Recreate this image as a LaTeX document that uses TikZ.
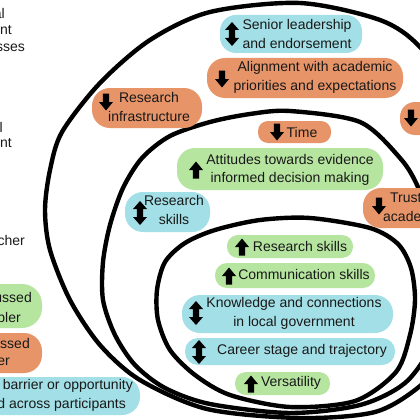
\documentclass[tikz,border=0pt]{standalone}
\usepackage{fontspec}
\setmainfont{Liberation Sans}
\definecolor{cbox}{RGB}{162,223,230}
\definecolor{gbox}{RGB}{182,229,160}
\definecolor{obox}{RGB}{230,148,104}
\definecolor{txt}{RGB}{25,25,25}
\begin{document}
\begin{tikzpicture}[x=1pt,y=-1pt,
  ring/.style={line width=4.4pt,black,line join=round},
  pillc/.style={fill=cbox,draw=none,inner sep=0pt,rounded corners=#1},
  pillg/.style={fill=gbox,draw=none,inner sep=0pt,rounded corners=#1},
  pillo/.style={fill=obox,draw=none,inner sep=0pt,rounded corners=#1},
  lbl/.style={font=\fontsize{14}{18.5}\selectfont,text=txt,align=center,inner sep=0pt},
  frag/.style={lbl,anchor=east},
  downarr/.pic={\fill[black] (-3.2,-8.5) -- (3.2,-8.5) -- (3.2,0) -- (7,0) -- (0,8.5) -- (-7,0) -- (-3.2,0) -- cycle;},
  uparr/.pic={\fill[black] (-3.2,8.5) -- (3.2,8.5) -- (3.2,0) -- (7,0) -- (0,-8.5) -- (-7,0) -- (-3.2,0) -- cycle;},
  udarr/.pic={\fill[black] (0,-12) -- (7,-4) -- (3.2,-4) -- (3.2,4) -- (7,4) -- (0,12) -- (-7,4) -- (-3.2,4) -- (-3.2,-4) -- (-7,-4) -- cycle;}
]
\useasboundingbox (0,0) rectangle (420,420);
\fill[white] (0,0) rectangle (420,420);
\clip (0,0) rectangle (420,420);

% rings
\draw[ring] plot[smooth cycle] coordinates {(300,3) (380,20) (420,47) (455,100) (475,190) (472,290) (448,352) (420,386) (375,412) (300,418) (207,409) (140,380) (100,345) (70,300) (50,250) (45,210) (50,170) (62,132) (100,83) (150,40) (210,12)};
\draw[ring] plot[smooth cycle] coordinates {(290,111) (360,122) (400,158) (418,187) (438,240) (444,300) (432,345) (405,383) (360,405) (290,413) (210,404) (165,388) (135,365) (115,335) (103,300) (103,262) (110,225) (123,188) (142,158) (170,136) (210,122) (250,114)};
\draw[ring] plot[smooth cycle] coordinates {(310,218) (370,228) (398,244) (411,268) (415,300) (410,335) (396,372) (355,401) (290,407) (230,395) (195,375) (170,350) (158,320) (157,290) (165,262) (185,243) (215,230) (260,220)};

% outer ring boxes
\node[pillc=16pt,minimum width=142pt,minimum height=38pt] (b1) at (291,34) {};
\node[lbl] (t1) at (297,34) {Senior leadership\\and endorsement};
\pic at (232,34) {udarr};
\node[pillo=18pt,minimum width=196pt,minimum height=40pt] (b2) at (305,78) {};
\node[lbl] (t2) at (315,77.5) {Alignment with academic\\priorities and expectations};
\pic at (222,79) {downarr};
\node[pillo=18pt,minimum width=110pt,minimum height=40pt] (b3) at (147,108) {};
\node[lbl] (t3) at (149,107) {Research\\infrastructure};
\pic at (106,102) {downarr};
\node[pillo=15pt,minimum width=50pt,minimum height=33pt] (b4) at (425,118.5) {};
\pic at (411,118) {downarr};

% middle ring boxes
\node[pillo=10pt,minimum width=73pt,minimum height=22pt] (b5) at (294.5,132) {};
\node[lbl] (t5) at (302,132) {Time};
\pic at (277,132) {downarr};
\node[pillg=18pt,minimum width=206pt,minimum height=42pt] (b6) at (280,169) {};
\node[lbl] (t6) at (290,170) {Attitudes towards evidence\\informed decision making};
\pic at (196,170) {uparr};
\node[pillc=18pt,minimum width=85pt,minimum height=40pt] (b7) at (167.5,212) {};
\node[lbl] (t7) at (174,210) {Research\\skills};
\pic at (140,213) {udarr};
\node[pillo=18pt,minimum width=87pt,minimum height=40pt] (b8) at (406.5,208) {};
\node[lbl,anchor=west] (t8a) at (390,197.5) {Trust};
\node[lbl,anchor=west] (t8b) at (383,216.5) {acade};
\pic at (379,206) {downarr};

% inner ring boxes
\node[pillg=11pt,minimum width=126pt,minimum height=23pt] (b9) at (290,246.5) {};
\node[lbl] (t9) at (300,246) {Research skills};
\pic at (242,247) {uparr};
\node[pillg=12pt,minimum width=160pt,minimum height=25pt] (b10) at (295,275.5) {};
\node[lbl] (t10) at (304,274.5) {Communication skills};
\pic at (229,276) {uparr};
\node[pillc=18pt,minimum width=211pt,minimum height=38pt] (b11) at (287.5,314) {};
\node[lbl] (t11) at (294,313.5) {Knowledge and connections\\in local government};
\pic at (196,313) {udarr};
\node[pillc=13pt,minimum width=210pt,minimum height=27pt] (b12) at (290,351.5) {};
\node[lbl] (t12) at (302,351) {Career stage and trajectory};
\pic at (199,352) {udarr};
\node[pillg=11pt,minimum width=95pt,minimum height=23pt] (b13) at (282.5,383.5) {};
\node[lbl] (t13) at (291,383) {Versatility};
\pic at (251,384) {uparr};

% left fragments
\node[frag] (f1) at (5,13) {al};
\node[frag] (f2) at (12,30) {nt};
\node[frag] (f3) at (25,48) {sses};
\node[frag] (f4) at (3,127) {l};
\node[frag] (f5) at (12,143) {nt};
\node[frag] (f6) at (25,240) {cher};

% legend
\node[pillg=20pt,minimum width=82pt,minimum height=44pt] (l1) at (1,306) {};
\node[frag] (l1a) at (32,297) {ussed};
\node[frag] (l1b) at (21,317) {bler};
\node[pillo=18pt,minimum width=82pt,minimum height=40pt] (l2) at (1,353) {};
\node[frag] (l2a) at (30,343) {ussed};
\node[frag] (l2b) at (10,362) {er};
\node[pillc=18pt,minimum width=180pt,minimum height=38pt] (l3) at (50,396) {};
\node[frag] (l3a) at (133,386) {barrier or opportunity};
\node[frag] (l3b) at (126,405) {d across participants};
\end{tikzpicture}
\end{document}
